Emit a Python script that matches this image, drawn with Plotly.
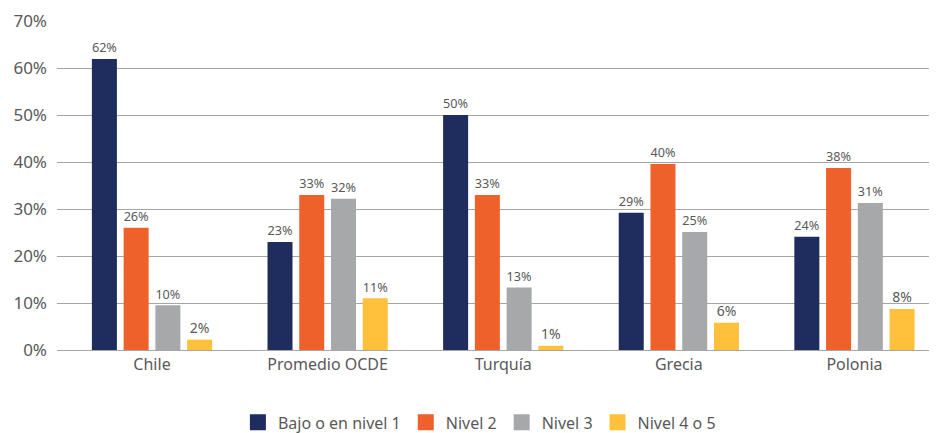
import plotly.graph_objects as go

# Distribución por nivel de desempeño (PISA), porcentajes
paises = ["Chile", "Promedio OCDE", "Turquía", "Grecia", "Polonia"]

bajo_nivel1 = [61.9, 23.0, 50.0, 29.2, 24.1]
nivel2 = [26.0, 33.0, 33.0, 39.6, 38.7]
nivel3 = [9.5, 32.2, 13.3, 25.1, 31.3]
nivel4_5 = [2.2, 11.0, 0.9, 5.8, 8.7]

etiquetas_bajo = ["62%", "23%", "50%", "29%", "24%"]
etiquetas_n2 = ["26%", "33%", "33%", "40%", "38%"]
etiquetas_n3 = ["10%", "32%", "13%", "25%", "31%"]
etiquetas_n45 = ["2%", "11%", "1%", "6%", "8%"]

series = [
    ("Bajo o en nivel 1", bajo_nivel1, etiquetas_bajo, "#1f2d5e"),
    ("Nivel 2", nivel2, etiquetas_n2, "#ee612b"),
    ("Nivel 3", nivel3, etiquetas_n3, "#a7a8aa"),
    ("Nivel 4 o 5", nivel4_5, etiquetas_n45, "#ffc13b"),
]

texto = "#595959"
fuente = "Noto Sans"

fig = go.Figure()
for nombre, valores, etiquetas, color in series:
    fig.add_trace(go.Bar(
        x=paises, y=valores, name=nombre, showlegend=False,
        marker_color=color, marker_line_width=0,
        text=etiquetas, textposition="outside",
        textfont=dict(color=texto, size=14, family=fuente),
        cliponaxis=False,
    ))
# entradas de leyenda con cuadrados grandes
for nombre, valores, etiquetas, color in series:
    fig.add_trace(go.Scatter(
        x=[None], y=[None], mode="markers", name=nombre,
        marker=dict(symbol="square", size=16, color=color),
    ))

# la página deja 8px de margen alrededor del gráfico
fig.update_layout(
    width=929, height=425,
    margin=dict(l=49, r=0, t=13, b=83, autoexpand=False),
    plot_bgcolor="white", paper_bgcolor="white",
    barmode="group", bargap=0.277, bargroupgap=0.212,
    font=dict(family=fuente, color=texto, size=16),
    legend=dict(orientation="h", x=0.48, xanchor="center", y=-0.22, yanchor="middle",
                font=dict(size=16, color=texto), traceorder="normal", itemsizing="trace"),
)
fig.update_xaxes(range=[-0.541, 4.47], showgrid=False, showline=True,
                 linecolor="#a6a6a6", linewidth=1,
                 ticks="", tickfont=dict(size=16, color=texto), automargin=False)
fig.update_yaxes(range=[0, 70], dtick=10, ticksuffix="%", showgrid=True,
                 gridcolor="#a6a6a6", gridwidth=1, zeroline=False, automargin=False,
                 tickfont=dict(size=17, color=texto), ticklabelstandoff=9)

fig.write_html("out.html")
